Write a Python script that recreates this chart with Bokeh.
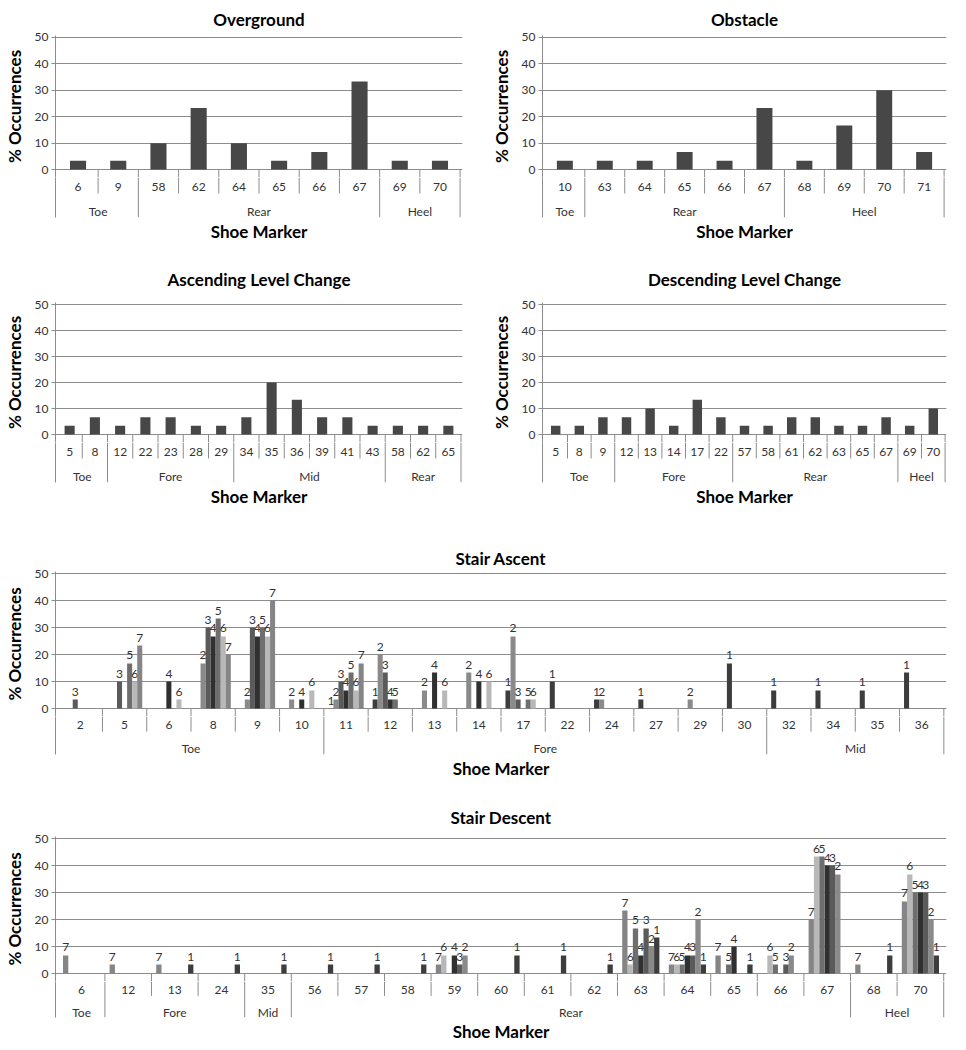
from bokeh.plotting import figure
from bokeh.models import FactorRange, Range1d, FixedTicker, ColumnDataSource, Title, LinearAxis
from bokeh.transform import dodge
from bokeh.layouts import column, row
from bokeh.embed import file_html
from bokeh.resources import INLINE
from bokeh.core.properties import value

# ---------------- data ----------------
og_groups = ["Toe", "Toe", "Rear", "Rear", "Rear", "Rear", "Rear", "Rear", "Heel", "Heel"]
og_markers = ["6", "9", "58", "62", "64", "65", "66", "67", "69", "70"]
og_values = [3.33, 3.33, 10, 23.33, 10, 3.33, 6.67, 33.33, 3.33, 3.33]

ob_groups = ["Toe", "Rear", "Rear", "Rear", "Rear", "Rear", "Heel", "Heel", "Heel", "Heel"]
ob_markers = ["10", "63", "64", "65", "66", "67", "68", "69", "70", "71"]
ob_values = [3.33, 3.33, 3.33, 6.67, 3.33, 23.33, 3.33, 16.67, 30, 6.67]

alc_groups = ["Toe", "Toe", "Fore", "Fore", "Fore", "Fore", "Fore", "Mid", "Mid", "Mid",
              "Mid", "Mid", "Mid", "Rear", "Rear", "Rear"]
alc_markers = ["5", "8", "12", "22", "23", "28", "29", "34", "35", "36", "39", "41", "43", "58", "62", "65"]
alc_values = [3.33, 6.67, 3.33, 6.67, 6.67, 3.33, 3.33, 6.67, 20, 13.33, 6.67, 6.67, 3.33, 3.33, 3.33, 3.33]

dlc_groups = ["Toe", "Toe", "Toe", "Fore", "Fore", "Fore", "Fore", "Fore", "Rear", "Rear",
              "Rear", "Rear", "Rear", "Rear", "Rear", "Heel", "Heel"]
dlc_markers = ["5", "8", "9", "12", "13", "14", "17", "22", "57", "58", "61", "62", "63", "65", "67", "69", "70"]
dlc_values = [3.33, 3.33, 6.67, 6.67, 10, 3.33, 13.33, 6.67, 3.33, 3.33, 6.67, 6.67, 3.33, 3.33, 6.67, 3.33, 10]

sa_groups = ["Toe", "Toe", "Toe", "Toe", "Toe", "Toe",
             "Fore", "Fore", "Fore", "Fore", "Fore", "Fore", "Fore", "Fore", "Fore", "Fore",
             "Mid", "Mid", "Mid", "Mid"]
sa_markers = ["2", "5", "6", "8", "9", "10", "11", "12", "13", "14", "17", "22", "24", "27", "29", "30",
              "32", "34", "35", "36"]
N = None
sa_s1 = [N, N, N, N, N, N, 0, 3.33, N, N, 6.67, 10, 3.33, 3.33, N, 16.67, 6.67, 6.67, 6.67, 13.33]
sa_s2 = [N, N, N, 16.67, 3.33, 3.33, 3.33, 20, 6.67, 13.33, 26.67, N, 3.33, N, 3.33, N, N, N, N, N]
sa_s3 = [3.33, 10, N, 30, 30, N, 10, 13.33, N, N, 3.33, N, N, N, N, N, N, N, N, N]
sa_s4 = [N, N, 10, 26.67, 26.67, 3.33, 6.67, 3.33, 13.33, 10, N, N, N, N, N, N, N, N, N, N]
sa_s5 = [N, 16.67, N, 33.33, 30, N, 13.33, 3.33, N, N, 3.33, N, N, N, N, N, N, N, N, N]
sa_s6 = [N, 10, 3.33, 26.67, 26.67, 6.67, 6.67, N, 6.67, 10, 3.33, N, N, N, N, N, N, N, N, N]
sa_s7 = [N, 23.33, N, 20, 40, N, 16.67, N, N, N, N, N, N, N, N, N, N, N, N, N]

sd_groups = ["Toe", "Fore", "Fore", "Fore", "Mid",
             "Rear", "Rear", "Rear", "Rear", "Rear", "Rear", "Rear", "Rear", "Rear", "Rear", "Rear", "Rear",
             "Heel", "Heel"]
sd_markers = ["6", "12", "13", "24", "35", "56", "57", "58", "59", "60", "61", "62", "63", "64", "65",
              "66", "67", "68", "70"]
sd_s7 = [6.67, 3.33, 3.33, N, N, N, N, N, 3.33, N, N, N, 23.33, 3.33, 6.67, N, 20, 3.33, 26.67]
sd_s6 = [N, N, N, N, N, N, N, N, 6.67, N, N, N, 3.33, 3.33, N, 6.67, 43.33, N, 36.67]
sd_s5 = [N, N, N, N, N, N, N, N, N, N, N, N, 16.67, 3.33, 3.33, 3.33, 43.33, N, 30]
sd_s4 = [N, N, N, N, N, N, N, N, 6.67, N, N, N, 6.67, 6.67, 10, N, 40, N, 30]
sd_s3 = [N, N, N, N, N, N, N, N, 3.33, N, N, N, 16.67, 6.67, N, 3.33, 40, N, 30]
sd_s2 = [N, N, N, N, N, N, N, N, 6.67, N, N, N, 10, 20, N, 6.67, 36.67, N, 20]
sd_s1 = [N, N, 3.33, 3.33, 3.33, 3.33, 3.33, 3.33, N, 6.67, 6.67, 3.33, 13.33, 3.33, 3.33, N, N, 6.67, 6.67]

series_names = ["1", "2", "3", "4", "5", "6", "7"]
series_colors = ["#3d3d3d", "#8a8a8a", "#5a5a5a", "#303030", "#6e6e6e", "#b8b8b8", "#858585"]
single_color = "#474747"

# ---------------- style ----------------
FONT = "Lato"
GRID = "#8c8c8c"
TXT = "#333333"
TABLE_H = 48   # depth of the category table below the zero line (px)
EXT = 8        # part of the table drawn inside the bar figure (px)
ROW1 = 24      # depth of the marker row (px)


def build(title, groups, markers, series, names, colors, bar_w, offsets, labels,
          width, bl, br, band_top, title_standoff, ppu, xl_band):
    factors = list(zip(groups, markers))
    xr = FactorRange(*factors, factor_padding=0, subgroup_padding=0, group_padding=0,
                     range_padding=0.06, range_padding_units="absolute")
    frame_h = int(round(50 * ppu)) + 2 + EXT
    k = (frame_h - 2 - EXT) / 50.0

    p = figure(x_range=xr, y_range=Range1d(-EXT / k, 50 + 2 / k), width=width, height=band_top + frame_h,
               x_axis_location=None, output_backend="svg", toolbar_location=None,
               min_border_left=bl, min_border_right=br, min_border_top=band_top, min_border_bottom=0)
    p.title.text = title
    p.title.align = "center"
    p.title.text_font = FONT
    p.title.text_font_size = "17px"
    p.title.text_font_style = "bold"
    p.title.text_color = "#000000"
    p.title.standoff = title_standoff
    p.outline_line_color = None
    p.xgrid.visible = False
    ax = p.yaxis[0]
    ax.ticker = FixedTicker(ticks=[0, 10, 20, 30, 40, 50])
    ax.axis_line_color = GRID
    ax.major_tick_line_color = GRID
    ax.major_tick_in = 0
    ax.major_tick_out = 4
    ax.minor_tick_line_color = None
    ax.major_label_text_font = FONT
    ax.major_label_text_font_size = "12px"
    ax.major_label_text_color = TXT
    ax.major_label_standoff = 3
    ax.axis_label = "% Occurrences"
    ax.axis_label_text_font = FONT
    ax.axis_label_text_font_size = "17px"
    ax.axis_label_text_font_style = "bold"
    ax.axis_label_text_color = "#000000"
    ax.axis_label_standoff = 7
    p.ygrid.grid_line_color = GRID

    # table separators: top part (inside the bar figure, clipped at its bottom)
    inner = ColumnDataSource(dict(x=factors[1:]))
    p.segment(x0=dodge("x", -0.5, range=xr), y0=0, x1=dodge("x", -0.5, range=xr), y1=-50,
              source=inner, line_color=GRID, line_width=1)
    last = ColumnDataSource(dict(x=[factors[-1]]))
    p.segment(x0=dodge("x", 0.5, range=xr), y0=0, x1=dodge("x", 0.5, range=xr), y1=-50,
              source=last, line_color=GRID, line_width=1)

    for vals, name, col, off in zip(series, names, colors, offsets):
        xs = [f for f, v in zip(factors, vals) if v is not None]
        ys = [v for v in vals if v is not None]
        src = ColumnDataSource(dict(x=xs, top=ys, lab=[name] * len(xs)))
        p.vbar(x=dodge("x", off, range=xr), top="top", bottom=0, width=bar_w, source=src,
               fill_color=col, line_color=None)
        if labels:
            p.text(x=dodge("x", off, range=xr), y="top", text="lab", source=src,
                   text_align="center", text_baseline="bottom", y_offset=-4,
                   text_font=value(FONT), text_font_size="12px", text_color=TXT)

    th = TABLE_H - EXT
    t = figure(x_range=xr, y_range=Range1d(-th, 0), width=width, height=th + xl_band,
               x_axis_location=None, y_axis_location=None, output_backend="svg", toolbar_location=None,
               min_border_left=bl, min_border_right=br, min_border_top=0, min_border_bottom=xl_band)
    t.outline_line_color = None
    t.grid.visible = False
    t.add_layout(LinearAxis(ticker=FixedTicker(ticks=[]), axis_line_color=GRID,
                            major_tick_line_color=None, minor_tick_line_color=None,
                            major_label_text_font_size="0px"), "left")

    starts = [groups[i] != groups[i - 1] for i in range(1, len(factors))]
    seg = ColumnDataSource(dict(x=factors[1:], y1=[-th if s else -(ROW1 - EXT) for s in starts]))
    t.segment(x0=dodge("x", -0.5, range=xr), y0=0, x1=dodge("x", -0.5, range=xr), y1="y1",
              source=seg, line_color=GRID, line_width=1)
    t.segment(x0=dodge("x", 0.5, range=xr), y0=0, x1=dodge("x", 0.5, range=xr), y1=-th,
              source=ColumnDataSource(dict(x=[factors[-1]])), line_color=GRID, line_width=1)
    t.text(x=factors, y=[-(17 - EXT)] * len(factors), text=markers, text_align="center",
           text_baseline="middle", text_font=value(FONT), text_font_size="12px", text_color=TXT)
    ugroups = []
    for g in groups:
        if g not in ugroups:
            ugroups.append(g)
    t.text(x=ugroups, y=[-(42 - EXT)] * len(ugroups), text=ugroups, text_align="center",
           text_baseline="middle", text_font=value(FONT), text_font_size="12px", text_color=TXT)
    t.add_layout(Title(text="Shoe Marker", align="center", text_font=FONT, text_font_size="17px",
                       text_font_style="bold", text_color="#000000", standoff=3), "below")
    return column(p, t, spacing=0)


W = 0.114
asc_off = [(k - 3) * W for k in range(7)]
des_off = [(3 - k) * W for k in range(7)]

A = build("Overground", og_groups, og_markers, [og_values], [""], [single_color], 0.4, [0], False,
          466, 46, 4, 34, 12, 2.66, 26)
B = build("Obstacle", ob_groups, ob_markers, [ob_values], [""], [single_color], 0.4, [0], False,
          484, 76, 4, 34, 12, 2.66, 26)
C = build("Ascending Level Change", alc_groups, alc_markers, [alc_values], [""], [single_color], 0.4, [0], False,
          466, 46, 4, 59, 25, 2.6, 26)
D = build("Descending Level Change", dlc_groups, dlc_markers, [dlc_values], [""], [single_color], 0.4, [0], False,
          484, 76, 4, 59, 25, 2.6, 26)
E = build("Stair Ascent", sa_groups, sa_markers, [sa_s1, sa_s2, sa_s3, sa_s4, sa_s5, sa_s6, sa_s7],
          series_names, series_colors, W, asc_off, True, 950, 46, 4, 63, 5, 2.7, 24)
F = build("Stair Descent", sd_groups, sd_markers, [sd_s1, sd_s2, sd_s3, sd_s4, sd_s5, sd_s6, sd_s7],
          series_names, series_colors, W, des_off, True, 950, 46, 4, 56, 18, 2.7, 22)

layout = column(row(A, B, spacing=0), row(C, D, spacing=0), E, F, spacing=0)
open("out.html", "w").write(file_html(layout, INLINE))
